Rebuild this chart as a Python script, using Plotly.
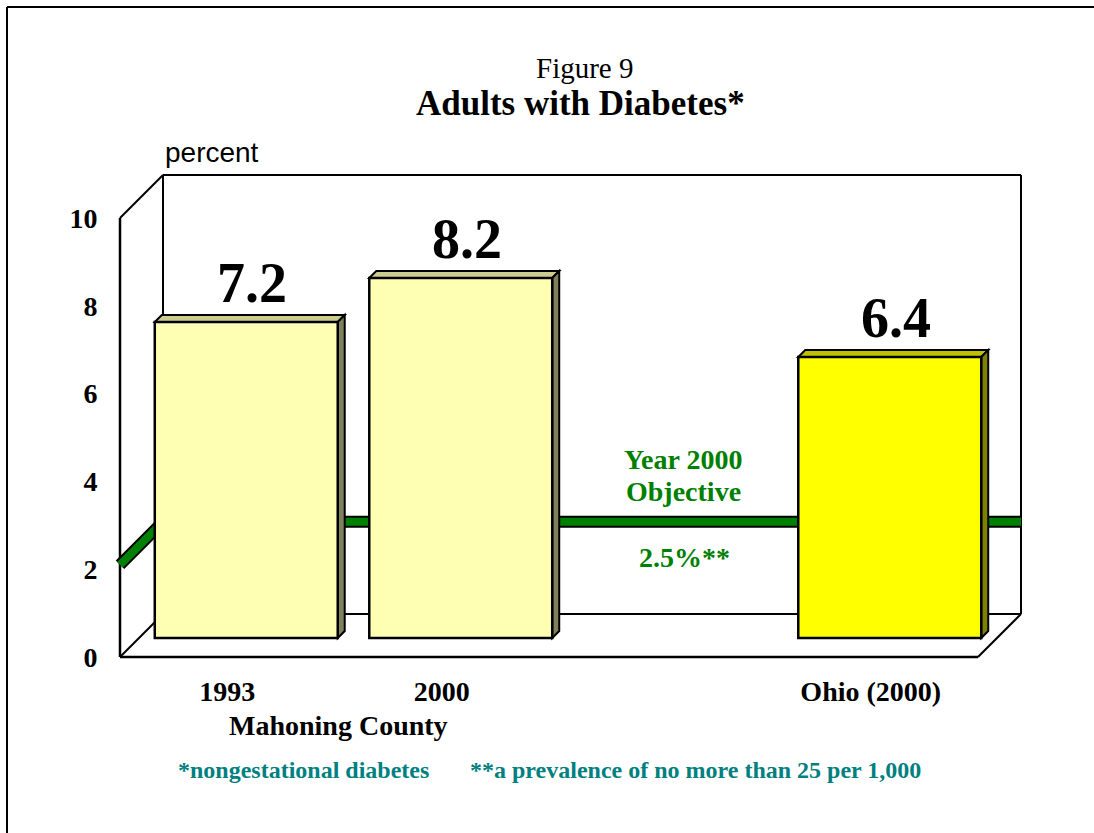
import plotly.graph_objects as go

# ---------------- data ----------------
categories = ["1993", "2000", "", "Ohio (2000)"]
values = [7.2, 8.2, None, 6.4]
value_labels = ["7.2", "8.2", "", "6.4"]
face_colors = ["#FFFFB3", "#FFFFB3", None, "#FFFF00"]
side_colors = ["#80805C", "#80805C", None, "#808000"]
top_colors = ["#CCCC8F", "#CCCC8F", None, "#C0C000"]
group_label = "Mahoning County"
objective_level = 2.1
objective_lines = ["Year 2000", "Objective"]
objective_value_text = "2.5%**"
y_ticks = [0, 2, 4, 6, 8, 10]
title_line1 = "Figure 9"
title_line2 = "Adults with Diabetes*"
y_title = "percent"
footnote1 = "*nongestational diabetes"
footnote2 = "**a prevalence of no more than 25 per 1,000"

# ---------------- layout geometry (pixels) ----------------
W, H = 1094, 833
PX_CAT = 214.5      # px per category
PX_UNIT = 43.9      # px per percent
X0_PX = 246.25      # px of category 0 centre (bar plane)
Y0_PX = 638.0       # px of value 0 (bar plane)
FRONT = 19.0        # depth offset of front plane (px)
BACK = 24.0         # depth offset of back wall (px)
DEPTH = 7.0         # bar depth (px)
BAR_W = 0.853

SERIF = "Liberation Serif, Times New Roman, serif"
SANS = "Liberation Sans, Arial, sans-serif"
GREEN = "#008000"
TEAL = "#008080"


def px_x(px):
    return (px - X0_PX) / PX_CAT


def px_y(py):
    return (Y0_PX - py) / PX_UNIT


x_range = [px_x(0), px_x(W)]
y_range = [px_y(H), px_y(0)]
fdx, fdy = FRONT / PX_CAT, FRONT / PX_UNIT
bdx, bdy = BACK / PX_CAT, BACK / PX_UNIT
ddx, ddy = DEPTH / PX_CAT, DEPTH / PX_UNIT

n = len(categories)
xa, xb = -0.5, n - 0.5
ytop = y_ticks[-1]

idx = [i for i, v in enumerate(values) if v is not None]

fig = go.Figure()

fig.add_trace(go.Bar(
    x=idx,
    y=[values[i] for i in idx],
    width=BAR_W,
    marker=dict(color=[face_colors[i] for i in idx], line=dict(color="black", width=2.5)),
    hoverinfo="skip",
    showlegend=False,
))
# dummy trace to carry the front-plane axes
fig.add_trace(go.Scatter(x=[None], y=[None], xaxis="x2", yaxis="y2",
                         showlegend=False, hoverinfo="skip"))

shapes = []


def seg(x0, y0, x1, y1, width=2, color="black"):
    shapes.append(dict(type="line", xref="x", yref="y", x0=x0, y0=y0, x1=x1, y1=y1,
                       line=dict(color=color, width=width), layer="below"))


# back wall and floor
seg(xa + bdx, bdy, xa + bdx, ytop + bdy)
seg(xa + bdx, ytop + bdy, xb + bdx, ytop + bdy)
seg(xb + bdx, bdy, xb + bdx, ytop + bdy)
seg(xa + bdx, bdy, xb + bdx, bdy)
# side wall / front edges
seg(xa - fdx, -fdy, xa - fdx, ytop - fdy, width=2.5)
seg(xa - fdx, ytop - fdy, xa + bdx, ytop + bdy)
seg(xa - fdx, -fdy, xb - fdx, -fdy, width=2.5)
seg(xa - fdx, -fdy, xa + bdx, bdy)
seg(xb - fdx, -fdy, xb + bdx, bdy)

# objective line (on side wall and back wall)
obj_path = "M {:.4f},{:.4f} L {:.4f},{:.4f} L {:.4f},{:.4f}".format(
    xa - fdx, objective_level - fdy,
    xa + bdx, objective_level + bdy,
    xb + bdx, objective_level + bdy)
shapes.append(dict(type="path", xref="x", yref="y", path=obj_path,
                   line=dict(color="black", width=12), layer="below"))
shapes.append(dict(type="path", xref="x", yref="y", path=obj_path,
                   line=dict(color=GREEN, width=8), layer="below"))

# 3D faces of bars
for i in idx:
    v = values[i]
    x0, x1 = i - BAR_W / 2, i + BAR_W / 2
    top = "M {a},{v} L {b},{w} L {c},{w} L {d},{v} Z".format(
        a=x0, b=x0 + ddx, c=x1 + ddx, d=x1, v=v, w=v + ddy)
    side = "M {a},{v} L {b},{w} L {b},{z} L {a},0 Z".format(
        a=x1, b=x1 + ddx, v=v, w=v + ddy, z=ddy)
    shapes.append(dict(type="path", xref="x", yref="y", path=top,
                       fillcolor=top_colors[i], line=dict(color="black", width=2), layer="below"))
    shapes.append(dict(type="path", xref="x", yref="y", path=side,
                       fillcolor=side_colors[i], line=dict(color="black", width=2), layer="below"))

# outer frame (only top and left edges are visible in the page)
shapes.append(dict(type="line", xref="paper", yref="paper",
                   x0=7 / W, y0=1 - 7 / H, x1=1.0, y1=1 - 7 / H,
                   line=dict(color="black", width=2), layer="below"))
shapes.append(dict(type="line", xref="paper", yref="paper",
                   x0=7 / W, y0=1 - 7 / H, x1=7 / W, y1=0.0,
                   line=dict(color="black", width=2), layer="below"))

annotations = []


def ann(text, x, y, size, color="black", family=SERIF, bold=True, xref="x", yref="y",
        xanchor="center", yanchor="middle", xshift=0, yshift=0):
    annotations.append(dict(text=text, x=x, y=y, xref=xref, yref=yref, showarrow=False,
                            xanchor=xanchor, yanchor=yanchor, xshift=xshift, yshift=yshift,
                            font=dict(family=family, size=size, color=color,
                                      weight="bold" if bold else "normal")))


# value labels
for i in idx:
    ann(value_labels[i], i, values[i], 56, yanchor="bottom", xshift=6, yshift=6)

# titles
ann(title_line1, 584 / W, 1 - 68 / H, 29, bold=False, xref="paper", yref="paper")
ann(title_line2, 580 / W, 1 - 104 / H, 35, xref="paper", yref="paper")
ann(y_title, 163 / W, 1 - 153 / H, 28, family=SANS, bold=False, xref="paper", yref="paper",
    xanchor="left")

# objective text
ann(objective_lines[0], px_x(683), px_y(459.5), 28, color=GREEN)
ann(objective_lines[1], px_x(683), px_y(491.5), 28, color=GREEN)
ann(objective_value_text, px_x(684), px_y(557.5), 28, color=GREEN)

# group label (centred under the county categories)
ann(group_label, 0.52, 1 - 725 / H, 28, xref="x2", yref="paper")

# footnotes
ann(footnote1, 176 / W, 1 - 770 / H, 24, color=TEAL, xref="paper", yref="paper", xanchor="left")
ann(footnote2, 468 / W, 1 - 770 / H, 24, color=TEAL, xref="paper", yref="paper", xanchor="left")

fig.update_layout(
    width=W, height=H,
    margin=dict(l=0, r=0, t=0, b=0),
    paper_bgcolor="white", plot_bgcolor="white",
    xaxis=dict(range=x_range, visible=False, fixedrange=True),
    yaxis=dict(range=y_range, visible=False, fixedrange=True),
    xaxis2=dict(range=[r + fdx for r in x_range], overlaying="x", anchor="free",
                position=(H - (Y0_PX + FRONT)) / H, side="bottom",
                tickmode="array", tickvals=idx, ticktext=[categories[i] for i in idx],
                ticks="outside", ticklen=9, tickcolor="rgba(0,0,0,0)",
                showline=False, showgrid=False, zeroline=False, fixedrange=True,
                tickfont=dict(family=SERIF, size=28, color="black", weight="bold")),
    yaxis2=dict(range=[r + fdy for r in y_range], overlaying="y", anchor="free",
                position=(X0_PX - FRONT - PX_CAT * 0.5) / W, side="left",
                tickmode="array", tickvals=y_ticks, ticktext=[str(t) for t in y_ticks],
                ticks="outside", ticklen=17, tickcolor="rgba(0,0,0,0)",
                showline=False, showgrid=False, zeroline=False, fixedrange=True,
                tickfont=dict(family=SERIF, size=28, color="black", weight="bold")),
    shapes=shapes,
    annotations=annotations,
    showlegend=False,
)

fig.write_html(
    "out.html", config={"displayModeBar": False},
    post_script=("document.documentElement.style.overflow='hidden';"
                 "document.body.style.overflow='hidden';"
                 "document.body.style.margin='0';"))
